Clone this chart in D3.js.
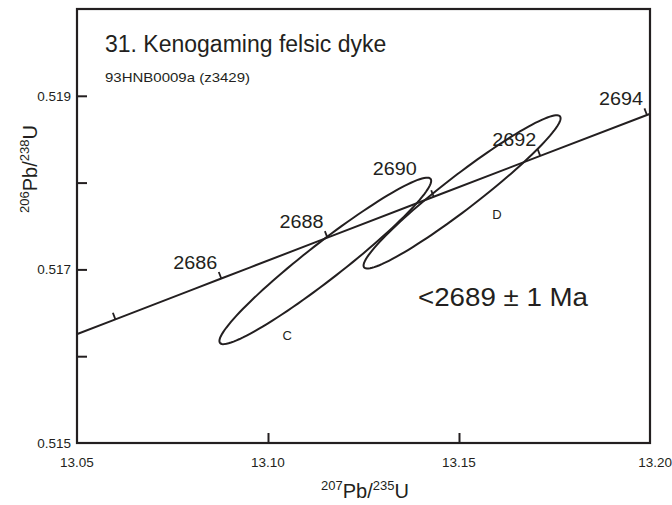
<!DOCTYPE html>
<html>
<head>
<meta charset="utf-8">
<script src="https://cdn.jsdelivr.net/npm/d3@7"></script>
<style>
  html, body { margin: 0; padding: 0; background: #fff; }
  svg { display: block; font-family: "Liberation Sans", Arial, Helvetica, sans-serif; }
</style>
</head>
<body>
<svg id="chart" width="672" height="505"></svg>
<script>
// Concordia reference points (age in Ma, 207Pb/235U, 206Pb/238U)
const concordiaAge = [2682, 2684, 2686, 2688, 2690, 2692, 2694, 2696];
const concordiaX   = [13.03238, 13.06005, 13.08777, 13.11555, 13.14338, 13.17126, 13.19920, 13.22720];
const concordiaY   = [0.515955, 0.516425, 0.516895, 0.517366, 0.517837, 0.518308, 0.518779, 0.519250];
const tickAges  = [2684, 2686, 2688, 2690, 2692, 2694];
const labelAges = [2686, 2688, 2690, 2692, 2694];

// Zircon analyses: 2-sigma error ellipses
const spotNames = ["C", "D"];
const spotX     = [13.1150, 13.1508];
const spotXErr  = [0.02772, 0.02579];
const spotY     = [0.517098, 0.517893];
const spotYErr  = [0.000959, 0.000883];
const spotRho   = [0.962, 0.961];

// Axis ticks
const xTickValues = [13.05, 13.10, 13.15, 13.20];
const yTickValues = [0.515, 0.516, 0.517, 0.518, 0.519];
const yTickLabels = [0.515, 0.517, 0.519];

const titleText = "31. Kenogaming felsic dyke";
const sampleText = "93HNB0009a (z3429)";
const ageText = "<2689 \u00b1 1 Ma";

const svg = d3.select("#chart");
const frame = { left: 77, right: 650, top: 9, bottom: 443 };

const x = d3.scaleLinear().domain([13.05, 13.20]).range([frame.left, frame.right]);
const y = d3.scaleLinear().domain([0.515, 0.520]).range([frame.bottom, frame.top]);

const ink = "#231f20";

svg.append("defs").append("clipPath").attr("id", "plot")
  .append("rect").attr("x", frame.left).attr("y", frame.top)
  .attr("width", frame.right - frame.left).attr("height", frame.bottom - frame.top);

// Inward axis ticks
const xAxis = d3.axisTop(x).tickValues([13.10, 13.15]).tickSize(10).tickFormat("");
svg.append("g").attr("transform", `translate(0,${frame.bottom})`).call(xAxis)
  .call(g => g.select(".domain").remove())
  .selectAll("line").attr("stroke", ink).attr("stroke-width", 2);

const yAxis = d3.axisRight(y).tickValues(yTickValues.filter(v => v > 0.515)).tickSize(10).tickFormat("");
svg.append("g").attr("transform", `translate(${frame.left},0)`).call(yAxis)
  .call(g => g.select(".domain").remove())
  .selectAll("line").attr("stroke", ink).attr("stroke-width", 2);

// Frame
svg.append("rect").attr("x", frame.left).attr("y", frame.top)
  .attr("width", frame.right - frame.left).attr("height", frame.bottom - frame.top)
  .attr("fill", "none").attr("stroke", ink).attr("stroke-width", 2.2);

// Tick labels
svg.append("g").selectAll("text").data(xTickValues).join("text")
  .attr("x", d => x(d)).attr("y", 467)
  .attr("text-anchor", d => d === 13.20 ? "end" : "middle")
  .attr("dx", d => d === 13.20 ? 22 : 0)
  .attr("font-size", 13.5).attr("fill", ink)
  .text(d => d3.format(".2f")(d));

svg.append("g").selectAll("text").data(yTickLabels).join("text")
  .attr("x", 71).attr("y", d => y(d) + 5)
  .attr("text-anchor", "end")
  .attr("font-size", 13.5).attr("fill", ink)
  .text(d => d3.format(".3f")(d));

// Axis titles
const xt = svg.append("text").attr("x", 365).attr("y", 498)
  .attr("text-anchor", "middle").attr("font-size", 20).attr("fill", ink);
xt.append("tspan").attr("font-size", 13).attr("dy", -8).text("207");
xt.append("tspan").attr("dy", 8).text("Pb/");
xt.append("tspan").attr("font-size", 13).attr("dy", -8).text("235");
xt.append("tspan").attr("dy", 8).text("U");

const yt = svg.append("text").attr("transform", "translate(37,169) rotate(-90)")
  .attr("text-anchor", "middle").attr("font-size", 20).attr("fill", ink);
yt.append("tspan").attr("font-size", 13).attr("dy", -8).text("206");
yt.append("tspan").attr("dy", 8).text("Pb/");
yt.append("tspan").attr("font-size", 13).attr("dy", -8).text("238");
yt.append("tspan").attr("dy", 8).text("U");

const plot = svg.append("g").attr("clip-path", "url(#plot)");

// Concordia curve
const pts = concordiaAge.map((a, i) => ({ age: a, px: x(concordiaX[i]), py: y(concordiaY[i]) }));
plot.append("path")
  .attr("d", d3.line().x(d => d.px).y(d => d.py).curve(d3.curveMonotoneX)(pts))
  .attr("fill", "none").attr("stroke", ink).attr("stroke-width", 2);

// Age ticks, perpendicular to the curve on its upper side
const ageMarks = tickAges.map(a => {
  const i = concordiaAge.indexOf(a);
  const p0 = pts[i - 1], p1 = pts[i + 1];
  const dx = p1.px - p0.px, dy = p1.py - p0.py, len = Math.hypot(dx, dy);
  return { age: a, px: pts[i].px, py: pts[i].py, nx: dy / len, ny: -dx / len };
});
plot.append("g").selectAll("line").data(ageMarks).join("line")
  .attr("x1", d => d.px).attr("y1", d => d.py)
  .attr("x2", d => d.px + d.nx * 7).attr("y2", d => d.py + d.ny * 7)
  .attr("stroke", ink).attr("stroke-width", 1.8);

// Age labels sit up and to the left of their tick; 2690 is lifted clear of ellipse C
const ageLabelOffset = { 2690: [-39, -22] };
svg.append("g").selectAll("text").data(ageMarks.filter(d => labelAges.includes(d.age))).join("text")
  .attr("x", d => d.px + (ageLabelOffset[d.age] || [-26, -10])[0])
  .attr("y", d => d.py + (ageLabelOffset[d.age] || [-26, -10])[1])
  .attr("text-anchor", "middle")
  .attr("font-size", 18).attr("textLength", 44).attr("lengthAdjust", "spacingAndGlyphs")
  .attr("fill", ink)
  .text(d => d.age);

// Error ellipses
const spots = spotNames.map((n, i) => ({
  name: n, cx: spotX[i], cy: spotY[i], ex: spotXErr[i], ey: spotYErr[i], rho: spotRho[i]
}));
const steps = d3.range(0, 361, 3).map(d => d * Math.PI / 180);
const ellipsePath = s => d3.line()(steps.map(t => [
  x(s.cx + s.ex * Math.cos(t)),
  y(s.cy + s.ey * (s.rho * Math.cos(t) + Math.sqrt(1 - s.rho * s.rho) * Math.sin(t)))
])) + "Z";
plot.append("g").selectAll("path").data(spots).join("path")
  .attr("d", ellipsePath)
  .attr("fill", "none").attr("stroke", ink).attr("stroke-width", 2);

const spotLabelOffset = { C: [-38, 79], D: [35, 27] };
svg.append("g").selectAll("text").data(spots).join("text")
  .attr("x", d => x(d.cx) + spotLabelOffset[d.name][0])
  .attr("y", d => y(d.cy) + spotLabelOffset[d.name][1])
  .attr("text-anchor", "middle").attr("font-size", 13).attr("fill", ink)
  .text(d => d.name);

// Titles and result
svg.append("text").attr("x", 105).attr("y", 52)
  .attr("font-size", 23).attr("fill", ink).text(titleText);
svg.append("text").attr("x", 105).attr("y", 82)
  .attr("font-size", 13).attr("textLength", 145).attr("lengthAdjust", "spacingAndGlyphs")
  .attr("fill", ink).text(sampleText);
svg.append("text").attr("x", 418).attr("y", 306)
  .attr("font-size", 26).attr("textLength", 170).attr("lengthAdjust", "spacingAndGlyphs")
  .attr("fill", ink).text(ageText);
</script>
</body>
</html>
